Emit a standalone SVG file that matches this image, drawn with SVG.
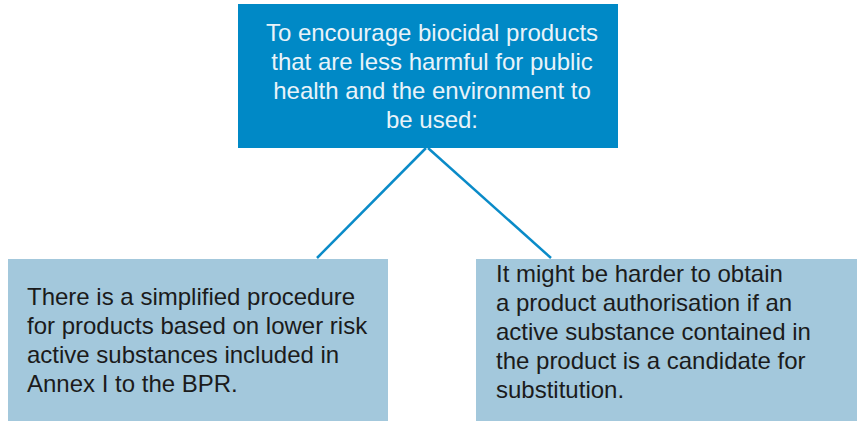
<svg xmlns="http://www.w3.org/2000/svg" width="857" height="421" viewBox="0 0 857 421">
<style>
.t{font-family:"Liberation Sans","Noto Sans",sans-serif;font-size:24px}
.top{fill:#e9f3f9;text-anchor:middle}
.dark{fill:#1b1b1b}
.box2{fill:#a3c8dc}
.conn{stroke:#0a8bc8;stroke-width:2.5;fill:none}
</style>
<rect width="857" height="421" fill="#ffffff"/>
<g id="connectors">
<line class="conn" x1="426" y1="148" x2="317" y2="258"/>
<line class="conn" x1="428" y1="148" x2="551" y2="258"/>
</g>
<g id="goal">
<rect x="238" y="4" width="380" height="144" fill="#0089c6"/>
<text class="t top" x="432" y="41">To encourage biocidal products</text>
<text class="t top" x="432" y="70">that are less harmful for public</text>
<text class="t top" x="432" y="99">health and the environment to</text>
<text class="t top" x="432" y="128">be used:</text>
</g>
<g id="simplified">
<rect class="box2" x="8" y="259" width="380" height="162"/>
<text class="t dark" x="27" y="305">There is a simplified procedure</text>
<text class="t dark" x="27" y="334">for products based on lower risk</text>
<text class="t dark" x="27" y="363">active substances included in</text>
<text class="t dark" x="27" y="392">Annex I to the BPR.</text>
</g>
<g id="harder">
<rect class="box2" x="476" y="259" width="381" height="162"/>
<text class="t dark" x="496" y="282">It might be harder to obtain</text>
<text class="t dark" x="496" y="311">a product authorisation if an</text>
<text class="t dark" x="496" y="340">active substance contained in</text>
<text class="t dark" x="496" y="369">the product is a candidate for</text>
<text class="t dark" x="496" y="398">substitution.</text>
</g>
</svg>
